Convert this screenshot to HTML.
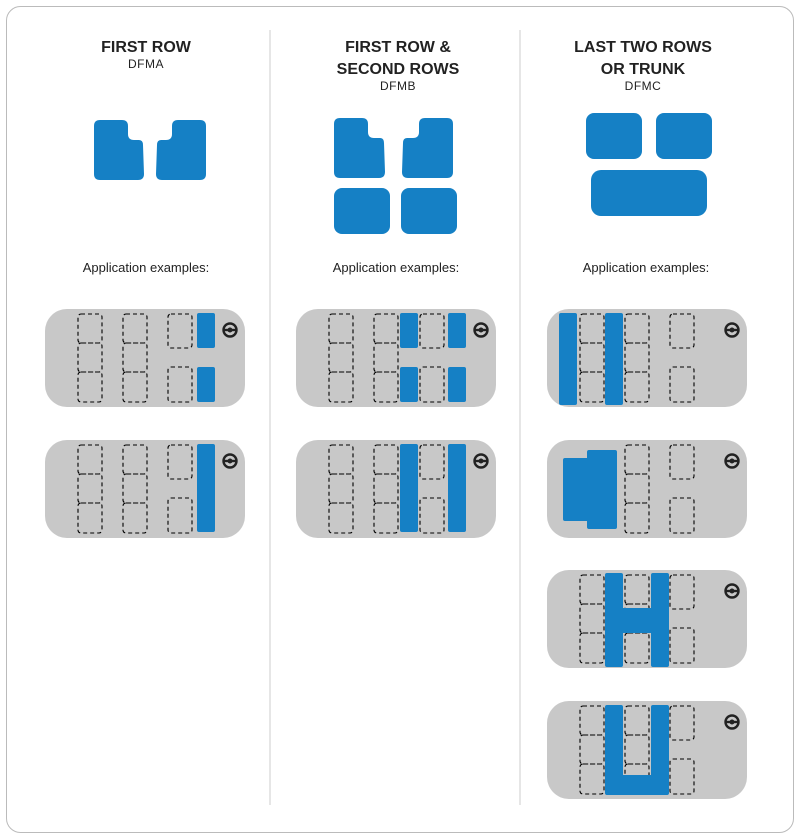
<!DOCTYPE html>
<html><head><style>
body{margin:0;background:#fff;}
svg{display:block;font-family:"Liberation Sans",sans-serif;}
.car{fill:#c8c8c8;}
.s{fill:none;stroke:#000;stroke-width:1.1;stroke-dasharray:4 3;}
.b{fill:#1580c5;}
.t{font-weight:bold;font-size:16px;fill:#222;text-anchor:middle;}
.c{font-size:12px;fill:#222;text-anchor:middle;letter-spacing:0.5px;}
.a{font-size:13px;fill:#222;text-anchor:middle;}
</style></head><body>
<svg width="800" height="839" viewBox="0 0 800 839">
<defs>
  <g id="rear"><rect class="s" x="0" y="5" width="24" height="29" rx="3"/><rect class="s" x="0" y="34" width="24" height="29" rx="3"/><rect class="s" x="0" y="63" width="24" height="30" rx="3"/></g>
  <g id="fr"><rect class="s" x="0" y="5" width="24" height="34" rx="3"/><rect class="s" x="0" y="58" width="24" height="35" rx="3"/></g>
  <g id="wheel"><circle cx="0" cy="0" r="6.5" fill="none" stroke="#222" stroke-width="2.4"/><circle cx="0" cy="0" r="2.5" fill="#222"/><rect x="-6" y="-1.2" width="12" height="2.4" fill="#222"/></g>
  <g id="base"><rect class="car" x="0" y="0" width="200" height="98" rx="22"/><use href="#wheel" x="185" y="21"/></g>
</defs>
<rect x="6.5" y="6.5" width="787" height="826" rx="14" fill="#fff" stroke="#bbb"/>
<line x1="270" y1="30" x2="270" y2="805" stroke="#ccc"/>
<line x1="520" y1="30" x2="520" y2="805" stroke="#ccc"/>

<text class="t" x="146" y="52">FIRST ROW</text>
<text class="c" x="146" y="68">DFMA</text>
<text class="t" x="398" y="52">FIRST ROW &amp;</text>
<text class="t" x="398" y="74">SECOND ROWS</text>
<text class="c" x="398" y="90">DFMB</text>
<text class="t" x="643" y="52">LAST TWO ROWS</text>
<text class="t" x="643" y="74">OR TRUNK</text>
<text class="c" x="643" y="90">DFMC</text>

<path class="b" d="M100 120 H122 Q128 120 128 126 V134 Q128 140 134 140 H139 Q143 140 143 145 L144 174 Q144 180 138 180 H100 Q94 180 94 174 V126 Q94 120 100 120 Z"/>
<path class="b" d="M200 120 H178 Q172 120 172 126 V134 Q172 140 166 140 H161 Q157 140 157 145 L156 174 Q156 180 162 180 H200 Q206 180 206 174 V126 Q206 120 200 120 Z"/>
<path class="b" d="M340 118 H362 Q368 118 368 124 V132 Q368 138 374 138 H380 Q384 138 384 143 L385 172 Q385 178 379 178 H340 Q334 178 334 172 V124 Q334 118 340 118 Z"/>
<path class="b" d="M447 118 H425 Q419 118 419 124 V132 Q419 138 413 138 H407 Q403 138 403 143 L402 172 Q402 178 408 178 H447 Q453 178 453 172 V124 Q453 118 447 118 Z"/>
<rect class="b" x="334" y="188" width="56" height="46" rx="8"/>
<rect class="b" x="401" y="188" width="56" height="46" rx="8"/>
<rect class="b" x="586" y="113" width="56" height="46" rx="8"/>
<rect class="b" x="656" y="113" width="56" height="46" rx="8"/>
<rect class="b" x="591" y="170" width="116" height="46" rx="10"/>

<text class="a" x="146" y="272">Application examples:</text>
<text class="a" x="396" y="272">Application examples:</text>
<text class="a" x="646" y="272">Application examples:</text>

<g transform="translate(45,309)"><use href="#base"/><use href="#rear" x="33"/><use href="#rear" x="78"/><use href="#fr" x="123"/>
<rect class="b" x="152" y="4" width="18" height="35" rx="2"/><rect class="b" x="152" y="58" width="18" height="35" rx="2"/></g>
<g transform="translate(45,440)"><use href="#base"/><use href="#rear" x="33"/><use href="#rear" x="78"/><use href="#fr" x="123"/>
<rect class="b" x="152" y="4" width="18" height="88" rx="2"/></g>
<g transform="translate(296,309)"><use href="#base"/><use href="#rear" x="33"/><use href="#rear" x="78"/><use href="#fr" x="124"/>
<rect class="b" x="104" y="4" width="18" height="35" rx="2"/><rect class="b" x="104" y="58" width="18" height="35" rx="2"/>
<rect class="b" x="152" y="4" width="18" height="35" rx="2"/><rect class="b" x="152" y="58" width="18" height="35" rx="2"/></g>
<g transform="translate(296,440)"><use href="#base"/><use href="#rear" x="33"/><use href="#rear" x="78"/><use href="#fr" x="124"/>
<rect class="b" x="104" y="4" width="18" height="88" rx="2"/><rect class="b" x="152" y="4" width="18" height="88" rx="2"/></g>
<g transform="translate(547,309)"><use href="#base"/><use href="#rear" x="33"/><use href="#rear" x="78"/><use href="#fr" x="123"/>
<rect class="b" x="12" y="4" width="18" height="92" rx="2"/><rect class="b" x="58" y="4" width="18" height="92" rx="2"/></g>
<g transform="translate(547,440)"><use href="#base"/><use href="#rear" x="78"/><use href="#fr" x="123"/>
<rect class="b" x="16" y="18" width="34" height="63" rx="2"/><rect class="b" x="40" y="10" width="30" height="79" rx="2"/></g>
<g transform="translate(547,570)"><use href="#base"/><use href="#rear" x="33"/><use href="#rear" x="78"/><use href="#fr" x="123"/>
<rect class="b" x="58" y="3" width="18" height="94" rx="2"/><rect class="b" x="104" y="3" width="18" height="94" rx="2"/><rect class="b" x="70" y="38" width="40" height="25"/></g>
<g transform="translate(547,701)"><use href="#base"/><use href="#rear" x="33"/><use href="#rear" x="78"/><use href="#fr" x="123"/>
<path class="b" d="M60 4 H74 Q76 4 76 6 V74 H104 V6 Q104 4 106 4 H120 Q122 4 122 6 V92 Q122 94 120 94 H60 Q58 94 58 92 V6 Q58 4 60 4 Z"/></g>
</svg>
</body></html>
